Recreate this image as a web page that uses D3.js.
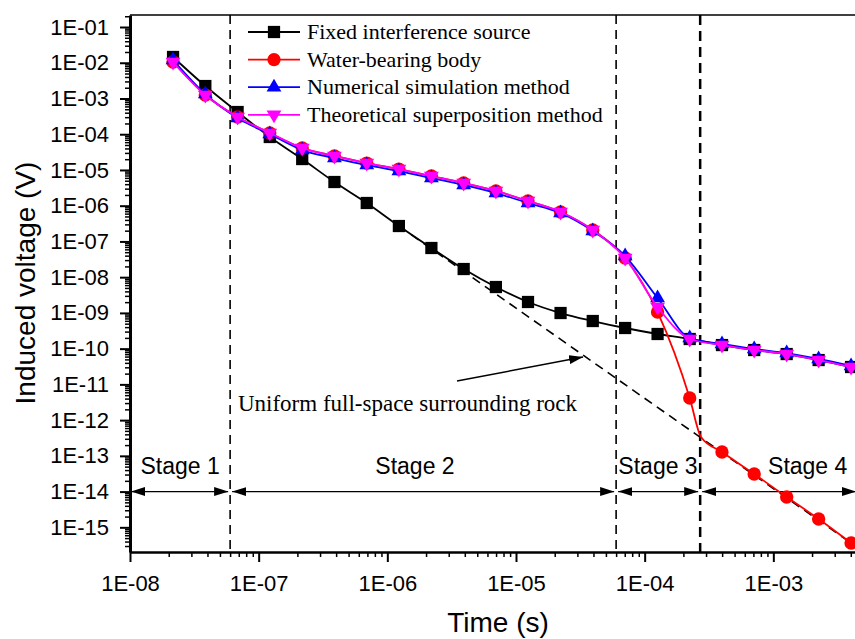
<!DOCTYPE html>
<html>
<head>
<meta charset="utf-8">
<script src="https://cdn.jsdelivr.net/npm/d3@7"></script>
<style>
  body { margin: 0; background: #fff; }
  svg { display: block; }
</style>
</head>
<body>
<div class="chart"></div>
<script>
// sample times (s), one marker every quarter decade
const times = [2.16e-8, 3.85e-8, 6.86e-8, 1.22e-7, 2.18e-7, 3.88e-7, 6.92e-7, 1.23e-6, 2.2e-6, 3.92e-6, 6.98e-6,
  1.24e-5, 2.22e-5, 3.95e-5, 7.05e-5, 1.26e-4, 2.24e-4, 3.99e-4, 7.1e-4, 1.27e-3, 2.25e-3, 4.02e-3];

const fixedSource = [1.45e-2, 2.23e-3, 4.18e-4, 8.36e-5, 2.02e-5, 4.6e-6, 1.19e-6, 2.7e-7, 6.55e-8, 1.69e-8, 5.3e-9,
  2.02e-9, 9.93e-10, 5.93e-10, 3.78e-10, 2.57e-10, 1.86e-10, 1.26e-10, 9.15e-11, 7.06e-11, 4.8e-11, 3.06e-11];
const waterBody = [1.05e-2, 1.25e-3, 3.03e-4, 1.08e-4, 4.11e-5, 2.46e-5, 1.56e-5, 1.06e-5, 6.76e-6, 4.31e-6, 2.58e-6,
  1.35e-6, 6.66e-7, 2.09e-7, 3.44e-8, 1.06e-9, 4.15e-12, 1.28e-13, 3.1e-14, 7.05e-15, 1.71e-15, 3.64e-16];
const numerical = [1.19e-2, 1.33e-3, 2.84e-4, 1.01e-4, 3.61e-5, 2.16e-5, 1.37e-5, 9.33e-6, 5.94e-6, 3.78e-6, 2.26e-6,
  1.19e-6, 6.24e-7, 1.96e-7, 3.91e-8, 2.61e-9, 1.98e-10, 1.35e-10, 9.75e-11, 7.53e-11, 5.13e-11, 3.27e-11];
const theoretical = [1.05e-2, 1.25e-3, 3.03e-4, 1.08e-4, 4.11e-5, 2.46e-5, 1.56e-5, 1.06e-5, 6.76e-6, 4.31e-6, 2.58e-6,
  1.35e-6, 6.66e-7, 2.09e-7, 3.44e-8, 1.46e-9, 1.86e-10, 1.26e-10, 9.15e-11, 7.06e-11, 4.8e-11, 3.06e-11];

// extra knee of the water-bearing curve (no marker drawn there)
const waterKnee = { t: 2.74e-4, v: 3.37e-13 };

// uniform full-space surrounding rock (dashed)
const uniformRock = [{ t: 1.23e-6, v: 2.7e-7 }, { t: 4.02e-3, v: 3.64e-16 }];

const legendNames = ["Fixed interference source", "Water-bearing body", "Numerical simulation method", "Theoretical superposition method"];

// stage boundaries and labels
const stageBounds = [6e-8, 6e-5, 2.7e-4];
const stageNames = ["Stage 1", "Stage 2", "Stage 3", "Stage 4"];
const stageLabelT = [2.45e-8, 1.64e-6, 1.27e-4, 1.85e-3];
const stageArrowV = 1e-14;
const stageLabelV = 3.2e-14;

const annotText = "Uniform full-space surrounding rock";
const annotPos = { t: 6.9e-8, v: 1.8e-12 };
const annotArrow = [{ t: 3.48e-6, v: 1.24e-11 }, { t: 3.32e-5, v: 5.83e-11 }];

const xMajor = [1e-8, 1e-7, 1e-6, 1e-5, 1e-4, 1e-3];
const yMajor = [1e-15, 1e-14, 1e-13, 1e-12, 1e-11, 1e-10, 1e-9, 1e-8, 1e-7, 1e-6, 1e-5, 1e-4, 1e-3, 1e-2, 1e-1];

const width = 855, height = 639;
const margin = { top: 15, right: -2, bottom: 87, left: 130 };

const svg = d3.select(".chart").append("svg")
  .attr("width", width)
  .attr("height", height);

const x = d3.scaleLog()
  .domain([1e-8, 4.47e-3])
  .range([margin.left, width - margin.right]);

const y = d3.scaleLog()
  .domain([2.04e-16, 0.2168])
  .range([height - margin.bottom, margin.top]);

const sans = "'Liberation Sans', Arial, sans-serif";
const serif = "'Liberation Serif', 'Times New Roman', serif";

const minorOf = (majors, lo, hi) => {
  const out = [];
  [majors[0] / 10, ...majors].forEach(m => {
    for (let k = 2; k <= 9; k++) {
      const v = m * k;
      if (v > lo && v < hi) out.push(v);
    }
  });
  return out;
};
const fmtE = d => "1E-" + String(-Math.round(Math.log10(d))).padStart(2, "0");

// arrow head defs
const defs = svg.append("defs");
defs.append("marker")
  .attr("id", "head")
  .attr("viewBox", "0 -5 14 10")
  .attr("refX", 14).attr("refY", 0)
  .attr("markerUnits", "userSpaceOnUse")
  .attr("markerWidth", 14).attr("markerHeight", 10)
  .attr("orient", "auto-start-reverse")
  .append("path").attr("d", "M0,-4.5L14,0L0,4.5Z").attr("fill", "#000");

// top frame line
svg.append("line")
  .attr("x1", margin.left).attr("x2", width)
  .attr("y1", margin.top).attr("y2", margin.top)
  .attr("stroke", "#000").attr("stroke-width", 1.5);

// x axis
const xAxisG = svg.append("g").attr("transform", `translate(0,${height - margin.bottom})`);
xAxisG.append("g")
  .call(d3.axisBottom(x).tickValues(minorOf(xMajor, 1e-8, x.domain()[1])).tickSize(5).tickFormat("").tickSizeOuter(0))
  .call(g => g.select(".domain").remove())
  .call(g => g.selectAll("line").attr("stroke-width", 1.5));
xAxisG.append("g")
  .call(d3.axisBottom(x).tickValues(xMajor).tickSize(10).tickPadding(13).tickFormat(fmtE).tickSizeOuter(0))
  .call(g => g.select(".domain").attr("stroke-width", 2.5))
  .call(g => g.selectAll("line").attr("stroke-width", 2))
  .call(g => g.selectAll("text").attr("font-family", sans).attr("font-size", 22).attr("fill", "#000"));

// y axis
const yAxisG = svg.append("g").attr("transform", `translate(${margin.left},0)`);
yAxisG.append("g")
  .call(d3.axisLeft(y).tickValues(minorOf(yMajor, y.domain()[0], y.domain()[1])).tickSize(5).tickFormat("").tickSizeOuter(0))
  .call(g => g.select(".domain").remove())
  .call(g => g.selectAll("line").attr("stroke-width", 1.5));
yAxisG.append("g")
  .call(d3.axisLeft(y).tickValues(yMajor).tickSize(10).tickPadding(11).tickFormat(fmtE).tickSizeOuter(0))
  .call(g => g.select(".domain").attr("stroke-width", 3))
  .call(g => g.selectAll("line").attr("stroke-width", 2))
  .call(g => g.selectAll("text").attr("font-family", sans).attr("font-size", 22).attr("fill", "#000"));

// axis titles
svg.append("text")
  .attr("x", 498).attr("y", 632)
  .attr("text-anchor", "middle")
  .attr("font-family", sans).attr("font-size", 28)
  .text("Time (s)");
svg.append("text")
  .attr("transform", "translate(35,283) rotate(-90)")
  .attr("text-anchor", "middle")
  .attr("font-family", sans).attr("font-size", 28)
  .text("Induced voltage (V)");

// stage dividers
stageBounds.forEach((b, i) => {
  svg.append("line")
    .attr("x1", x(b)).attr("x2", x(b))
    .attr("y1", margin.top).attr("y2", height - margin.bottom)
    .attr("stroke", "#000")
    .attr("stroke-width", i === 2 ? 2.5 : 1.6)
    .attr("stroke-dasharray", i === 2 ? "10,6" : "9,6");
});

// stage arrows
const edges = [x.domain()[0], ...stageBounds, x.domain()[1]];
stageNames.forEach((name, i) => {
  const x0 = x(edges[i]) + (i === 0 ? 1 : 2);
  const x1 = x(edges[i + 1]) - (i === 3 ? 1 : 2);
  svg.append("line")
    .attr("x1", x0).attr("x2", x1)
    .attr("y1", y(stageArrowV)).attr("y2", y(stageArrowV))
    .attr("stroke", "#000").attr("stroke-width", 1.2)
    .attr("marker-start", "url(#head)")
    .attr("marker-end", "url(#head)");
  svg.append("text")
    .attr("x", x(stageLabelT[i])).attr("y", y(stageLabelV))
    .attr("text-anchor", "middle")
    .attr("font-family", sans).attr("font-size", 23)
    .text(name);
});

// uniform rock dashed line
svg.append("path")
  .datum(uniformRock)
  .attr("fill", "none")
  .attr("stroke", "#000")
  .attr("stroke-width", 1.6)
  .attr("stroke-dasharray", "9,6")
  .attr("d", d3.line().x(d => x(d.t)).y(d => y(d.v)));

// annotation
svg.append("text")
  .attr("x", x(annotPos.t)).attr("y", y(annotPos.v))
  .attr("font-family", serif).attr("font-size", 23)
  .text(annotText);
svg.append("path")
  .datum(annotArrow)
  .attr("fill", "none")
  .attr("stroke", "#000").attr("stroke-width", 1.5)
  .attr("marker-end", "url(#head)")
  .attr("d", d3.line().x(d => x(d.t)).y(d => y(d.v)));

// series
const toPts = vals => times.map((t, i) => ({ t, v: vals[i] }));
const waterLine = toPts(waterBody);
waterLine.splice(17, 0, waterKnee);

const series = [
  { name: legendNames[0], color: "#000000", pts: toPts(fixedSource), line: toPts(fixedSource), sym: d3.symbolSquare, size: 150, rot: 0 },
  { name: legendNames[1], color: "#ff0000", pts: toPts(waterBody), line: waterLine, sym: d3.symbolCircle, size: 140, rot: 0 },
  { name: legendNames[2], color: "#0000ff", pts: toPts(numerical), line: toPts(numerical), sym: d3.symbolTriangle, size: 95, rot: 0 },
  { name: legendNames[3], color: "#ff00ff", pts: toPts(theoretical), line: toPts(theoretical), sym: d3.symbolTriangle, size: 95, rot: 180 }
];

const line = d3.line()
  .x(d => x(d.t))
  .y(d => y(d.v))
  .curve(d3.curveMonotoneX);

series.forEach(s => {
  svg.append("path")
    .datum(s.line)
    .attr("fill", "none")
    .attr("stroke", s.color)
    .attr("stroke-width", 1.8)
    .attr("d", line);
  svg.append("g")
    .selectAll("path")
    .data(s.pts)
    .join("path")
    .attr("transform", d => `translate(${x(d.t)},${y(d.v)}) rotate(${s.rot})`)
    .attr("d", d3.symbol().type(s.sym).size(s.size))
    .attr("fill", s.color);
});

// legend
const legend = svg.append("g");
series.forEach((s, i) => {
  const ly = 32 + i * 27.6;
  legend.append("line")
    .attr("x1", 248).attr("x2", 300)
    .attr("y1", ly).attr("y2", ly)
    .attr("stroke", s.color).attr("stroke-width", 1.8);
  legend.append("path")
    .attr("transform", `translate(274,${ly}) rotate(${s.rot})`)
    .attr("d", d3.symbol().type(s.sym).size(s.size))
    .attr("fill", s.color);
  legend.append("text")
    .attr("x", 307).attr("y", ly + 7)
    .attr("font-family", serif).attr("font-size", 22)
    .text(s.name);
});
</script>
</body>
</html>
